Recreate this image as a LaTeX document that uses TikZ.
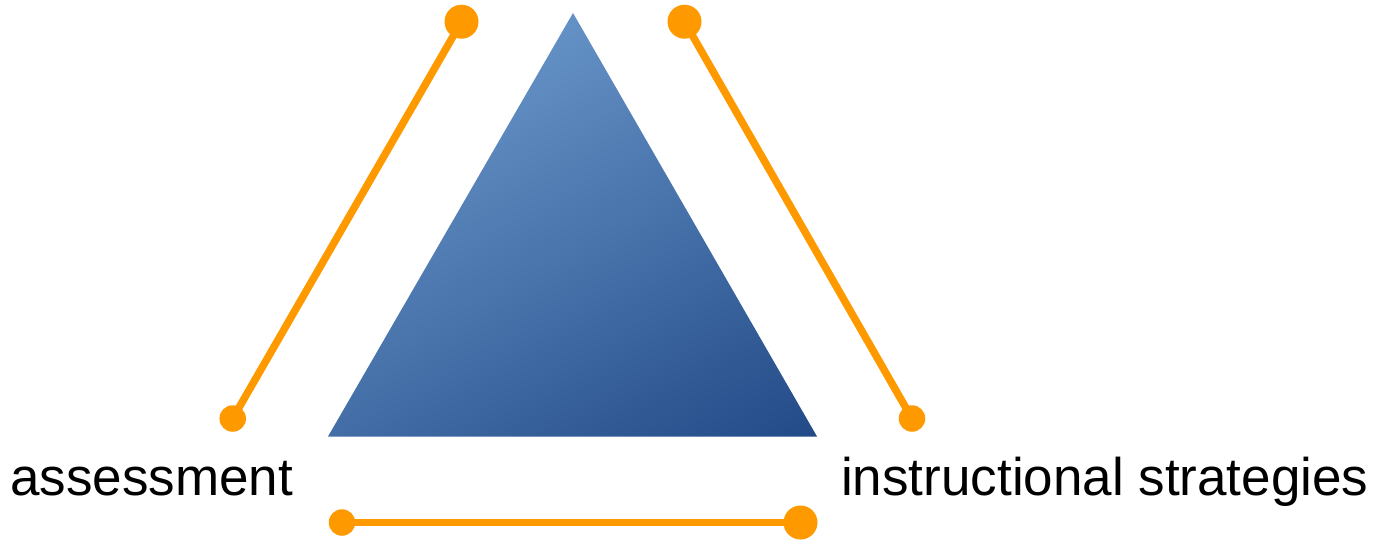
\documentclass[tikz,border=0pt]{standalone}
\usepackage{fontspec}
\setmainfont{Liberation Sans}
\definecolor{triTop}{HTML}{6592C6}
\definecolor{triBot}{HTML}{224A87}
\definecolor{orng}{HTML}{FF9900}
\tikzset{
  bigdot/.style={circle, fill=orng, draw=none, minimum size=34pt, inner sep=0pt},
  smalldot/.style={circle, fill=orng, draw=none, minimum size=26.5pt, inner sep=0pt},
  link/.style={draw=orng, line width=7.5pt},
  label/.style={anchor=base west, inner sep=0pt, font=\fontsize{53}{60}\selectfont, text=black}
}
\begin{document}
\begin{tikzpicture}[x=1pt, y=-1pt]
\useasboundingbox (0,0) rectangle (1390,539);
% triangle with diagonal gradient
\begin{scope}
  \clip (573,13) -- (817,436.5) -- (328,436.5) -- cycle;
  \begin{scope}[transform canvas={rotate around={29:(691.7,227.1)}}]
    \shade[top color=triTop, bottom color=triBot] (191.7,-17.9) rectangle (1191.7,472.1);
  \end{scope}
\end{scope}
% dots
\node[bigdot] (la) at (461.5,21.7) {};
\node[smalldot] (lb) at (232.7,418.5) {};
\node[bigdot] (ra) at (684.5,21.7) {};
\node[smalldot] (rb) at (912,418.5) {};
\node[smalldot] (ba) at (342,522.5) {};
\node[bigdot] (bb) at (800.5,522.5) {};
% connectors
\draw[link] (la.center) -- (lb.center);
\draw[link] (ra.center) -- (rb.center);
\draw[link] (ba.center) -- (bb.center);
% labels
\node[label] (assess) at (10,495) {assessment};
\node[label] (instr) at (841,495) {instructional strategies};
\end{tikzpicture}
\end{document}
